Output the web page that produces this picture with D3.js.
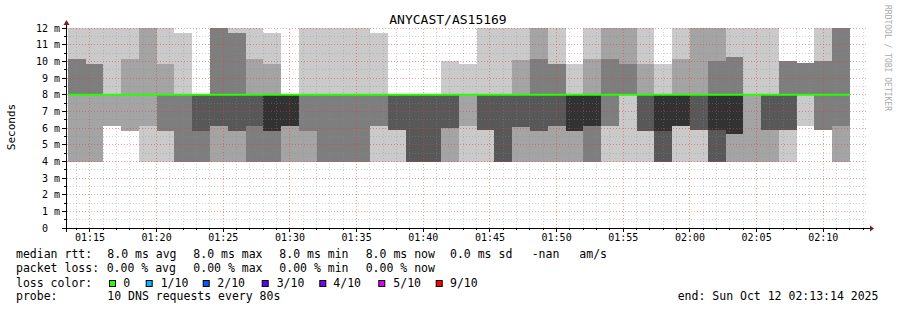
<!DOCTYPE html>
<html><head><meta charset="utf-8">
<script src="https://cdn.jsdelivr.net/npm/d3@7"></script>
<style>
body{margin:0;background:#fff;}
svg text{font-family:"DejaVu Sans Mono",monospace;}
</style></head><body>
<svg id="c" width="897" height="310"></svg>
<script>
// ---------------- data ----------------
const title = "ANYCAST/AS15169";
const yAxisTitle = "Seconds";
const watermark = "RRDTOOL / TOBI OETIKER";
const chartStart = new Date(2025, 9, 12, 1, 13, 14);
const chartEnd   = new Date(2025, 9, 12, 2, 13, 14);
const firstStepEnd = new Date(2025, 9, 12, 1, 14, 40);
const stepSeconds = 80;
// 10 sorted DNS response times (ms) per 80 s step
const pings = [
  [4,4,8,8,8,8,8,10.14,10.14,12],
  [4,4,8,8,8,8,8,9.84,9.84,12],
  [6.12,6.12,8,8,8,8,8,8,8,12],
  [5.84,5.84,8,8,8,8,8,8,10.14,12],
  [4,6.12,8,8,8,8,8,8,12,12],
  [4,5.84,5.84,8,8,8,8,8,9.84,12],
  [4,4,4,8,8,8,8,8,8,11.7],
  [4,4,4,5.84,8,8,8,8,8,8],
  [4,4,6.12,6.12,8,8,8,12,12,12],
  [4,4,5.84,5.84,8,8,8,11.7,11.7,12],
  [4,4,4,6.12,8,8,8,8,10.14,12],
  [4,4,4,5.84,5.84,8,8,8,9.84,11.7],
  [4,4,6.12,6.12,6.12,8,8,8,8,8],
  [4,4,5.84,8,8,8,8,8,8,12],
  [4,4,4,8,8,8,8,8,8,12],
  [4,4,4,8,8,8,8,8,8,12],
  [4,4,4,8,8,8,8,8,8,12],
  [4,6.12,6.12,8,8,8,8,8,8,11.7],
  [4,5.88,5.88,5.88,8,8,8,8,8,8],
  [4,4,4,4,8,8,8,8,8,8],
  [4,4,4,4,8,8,8,8,8,8],
  [4,4,6,6,8,8,8,8,8,10.02],
  [4,6.12,8,8,8,8,8,8,8,9.84],
  [4,5.88,5.88,5.88,8,8,8,8,8,12],
  [4,4,4,4,8,8,8,8,8,12],
  [4,4,6.08,6.08,8,8,8,8,10.08,12],
  [4,4,5.84,5.84,8,8,8,10.14,12,12],
  [4,4,6.12,6.12,8,8,8,9.84,9.84,12],
  [4,4,5.84,5.84,5.84,8,8,8,8,9.84],
  [4,4,4,6.12,6.12,8,8,8,10.14,12],
  [4,6.12,6.12,8,8,8,8,10.14,12,12],
  [4,8,8,8,8,8,8,9.84,12,12],
  [4,5.84,5.84,5.84,8,8,8,8,9.84,12],
  [4,4,4,4,5.84,8,8,8,8,9.84],
  [4,6.12,6.12,6.12,6.12,8,8,8,10.14,12],
  [4,5.88,5.88,5.88,8,8,8,8,12,12],
  [4,4,4,4,5.88,8,8,10.02,12,12],
  [4,4,5.64,5.64,5.64,8,8,10.26,10.26,12],
  [4,4,8,8,8,8,8,8,8,12],
  [4,4,5.88,5.88,8,8,8,8,8,12],
  [4,5.88,5.88,5.88,8,8,8,10.02,10.02,10.02],
  [6.12,8,8,8,8,8,8,9.9,9.9,9.9],
  [5.88,5.88,5.88,8,8,8,8,10.02,10.02,12],
  [4,4,6.12,8,8,8,8,12,12,12]
];
const medianRtt = [8,8,8,8,8,8,8,8,8,8,8,8,8,8,8,8,8,8,8,8,8,8,8,8,8,8,8,8,8,8,8,8,8,8,8,8,8,8,8,8,8,8,8,8];
const yTickValues = [0,1,2,3,4,5,6,7,8,9,10,11,12];
const yTickLabels = ["0","1 m","2 m","3 m","4 m","5 m","6 m","7 m","8 m","9 m","10 m","11 m","12 m"];
const smokeColors = ["#cacaca","#a4a4a4","#7e7e7e","#585858","#323232"];
const lossLabels = ["0","1/10","2/10","3/10","4/10","5/10","9/10"];
const lossColors = ["#26ff00","#00b8ff","#0059ff","#5e00ff","#7e00ff","#dd00ff","#ff0000"];
const statLabels = ["median rtt:","packet loss:","loss color:","probe:"];
const rttStats = ["8.0 ms avg","8.0 ms max","8.0 ms min","8.0 ms now","0.0 ms sd","-nan","am/s"];
const lossStats = ["0.00 % avg","0.00 % max","0.00 % min","0.00 % now"];
const probeText = "10 DNS requests every 80s";
const endText = "end: Sun Oct 12 02:13:14 2025";

// ---------------- drawing ----------------
const svg = d3.select("#c");
svg.append("rect").attr("width",897).attr("height",310).attr("fill","#fff");
const x = d3.scaleTime().domain([chartStart, chartEnd]).range([66.4, 866.4]);
const y = d3.scaleLinear().domain([0, 12]).range([228.3, 28]);
const px = v => Math.round(x(v));
const py = v => Math.round(y(v));

// smoke
const smoke = svg.append("g").attr("shape-rendering","crispEdges");
const stepEnds = pings.map((_, i) => new Date(+firstStepEnd + i*stepSeconds*1000));
pings.forEach((p, i) => {
  const tEnd = stepEnds[i];
  const tStart = new Date(Math.max(+chartStart, +tEnd - stepSeconds*1000));
  const x0 = Math.max(px(tStart), 68), x1 = px(tEnd);
  for (let k = 0; k < 5; k++) {
    const lo = p[k], hi = p[9-k];
    if (hi > lo) {
      smoke.append("rect").attr("x", x0).attr("width", x1 - x0)
        .attr("y", py(hi)).attr("height", py(lo) - py(hi))
        .attr("fill", smokeColors[k]);
    }
  }
});

// grid
const minorCol = "rgba(140,140,140,0.38)";
const majorCol = "rgba(230,60,60,0.5)";
const grid = svg.append("g").attr("shape-rendering","crispEdges");
const minutes = d3.timeMinute.range(d3.timeMinute.ceil(chartStart), chartEnd);
const fiveMin = d3.timeMinute.every(5).range(d3.timeMinute.ceil(chartStart), chartEnd);
const gx0 = 67, gx1 = 867, gy0 = 228, gy1 = 28;
minutes.forEach(t => {
  if (t.getMinutes() % 5 === 0) return;
  const xx = Math.floor(x(t)) + 0.5;
  grid.append("line").attr("x1",xx).attr("x2",xx).attr("y1",gy0).attr("y2",gy1)
    .attr("stroke",minorCol).attr("stroke-dasharray","1,2");
});
d3.range(1, 24).map(v => v/2).filter(v => v % 1 !== 0).forEach(v => {
  const yy = Math.floor(y(v)) + 0.5;
  grid.append("line").attr("x1",gx0).attr("x2",gx1).attr("y1",yy).attr("y2",yy)
    .attr("stroke",minorCol).attr("stroke-dasharray","1,2");
});
fiveMin.forEach(t => {
  const xx = Math.floor(x(t)) + 0.5;
  grid.append("line").attr("x1",xx).attr("x2",xx).attr("y1",gy0).attr("y2",gy1)
    .attr("stroke",majorCol).attr("stroke-dasharray","1,2");
});
yTickValues.filter(v => v > 0).forEach(v => {
  const yy = Math.floor(y(v)) + 0.5;
  grid.append("line").attr("x1",gx0).attr("x2",gx1).attr("y1",yy).attr("y2",yy)
    .attr("stroke",majorCol).attr("stroke-dasharray","1,2");
});

// median line
const lastEnd = stepEnds[stepEnds.length-1];
const medLine = d3.line().x(d => d[0]).y(d => d[1]).curve(d3.curveStepAfter);
const medPts = medianRtt.map((m, i) => [i === 0 ? 68 : px(new Date(+stepEnds[i] - stepSeconds*1000)), y(m)]);
medPts.push([px(lastEnd), y(medianRtt[medianRtt.length-1])]);
svg.append("path").attr("d", medLine(medPts)).attr("fill","none")
  .attr("stroke", lossColors[0]).attr("stroke-width", 2);

// axes
const ax = svg.append("g").attr("shape-rendering","crispEdges");
ax.append("line").attr("x1",62).attr("x2",870).attr("y1",228.5).attr("y2",228.5).attr("stroke","#000");
ax.append("line").attr("x1",66.5).attr("x2",66.5).attr("y1",232).attr("y2",24).attr("stroke","#000");
svg.append("path").attr("d","M870,225.5 L874,228.5 L870,231.5 Z").attr("fill","#7f1e1e");
svg.append("path").attr("d","M63.5,25 L66.5,20 L69.5,25 Z").attr("fill","#7f1e1e");
// x ticks
minutes.forEach(t => {
  const xx = Math.floor(x(t)) + 0.5;
  const major = t.getMinutes() % 5 === 0;
  ax.append("line").attr("x1",xx).attr("x2",xx).attr("y1",228).attr("y2",major?232:230).attr("stroke","#000");
});
// y ticks
d3.range(0, 25).map(v => v/2).forEach(v => {
  const yy = Math.floor(y(v)) + 0.5;
  const major = v % 1 === 0;
  ax.append("line").attr("x1",major?62:64).attr("x2",66).attr("y1",yy).attr("y2",yy).attr("stroke","#000");
});

// labels
const fmt = d3.timeFormat("%H:%M");
fiveMin.forEach(t => {
  svg.append("text").attr("x", x(t)).attr("y", 241).attr("text-anchor","middle")
    .attr("font-size", 10).text(fmt(t));
});
yTickValues.forEach((v, i) => {
  const lab = yTickLabels[i];
  svg.append("text").attr("x", lab.endsWith("m") ? 60 : 48).attr("y", y(v) + 3.5)
    .attr("text-anchor","end").attr("font-size", 10).text(lab);
});
svg.append("text").attr("x", 448).attr("y", 24).attr("text-anchor","middle")
  .attr("font-size", 13).text(title);
svg.append("text").attr("transform","translate(15,127) rotate(-90)").attr("text-anchor","middle")
  .attr("font-size", 11).text(yAxisTitle);
svg.append("text").attr("transform","translate(885,5) rotate(90)").attr("text-anchor","start")
  .attr("font-size", 8).attr("fill","#aaa").text(watermark);

// legend
const lg = svg.append("g").attr("font-size", 11.5);
const rowY = [258.3, 272.3, 286.7, 300.3];
statLabels.forEach((s, i) => lg.append("text").attr("x",16).attr("y",rowY[i]).text(s));
const rttX = [107.3, 193.3, 279.3, 365.7, 450, 531.7, 579.3];
rttStats.forEach((s, i) => lg.append("text").attr("x",rttX[i]).attr("y",rowY[0]).text(s));
const lossX = [106.7, 193.3, 279.3, 365.7];
lossStats.forEach((s, i) => lg.append("text").attr("x",lossX[i]).attr("y",rowY[1]).text(s));
const boxX = [109, 145.7, 202.7, 261.7, 319.3, 378.3, 435.7];
const lblX = [123.3, 160.7, 217.3, 276.7, 333.3, 393.3, 450];
lossLabels.forEach((s, i) => {
  lg.append("rect").attr("x", boxX[i]+0.5).attr("y", 280.5).attr("width", 6).attr("height", 6)
    .attr("fill", lossColors[i]).attr("stroke","#000").attr("stroke-width",1);
  lg.append("text").attr("x", lblX[i]).attr("y", rowY[2]).text(s);
});
lg.append("text").attr("x",107.3).attr("y",rowY[3]).text(probeText);
lg.append("text").attr("x",677.7).attr("y",rowY[3]).text(endText);
</script>
</body></html>
